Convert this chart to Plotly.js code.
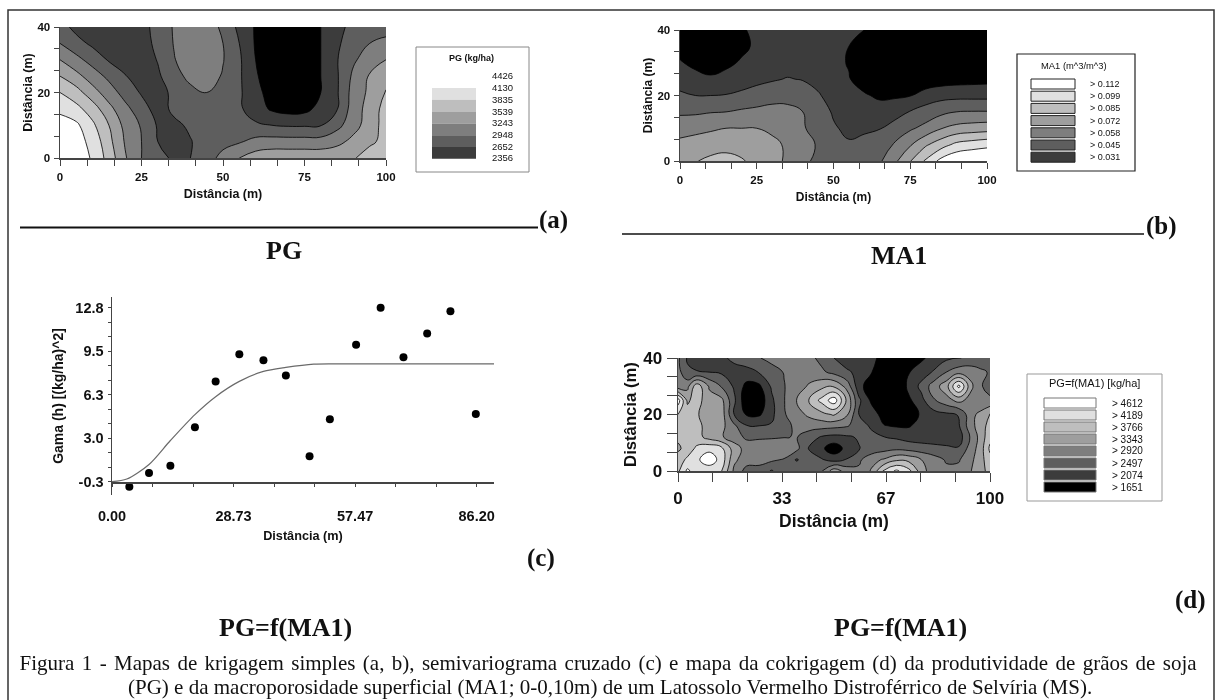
<!DOCTYPE html>
<html lang="pt">
<head>
<meta charset="utf-8">
<title>Figura 1</title>
<script src="https://cdn.plot.ly/plotly-3.0.1.min.js"></script>
<style>html,body{margin:0;padding:0;background:#fff}#chart{width:1219px;height:700px;filter:blur(0.45px)}</style>
</head>
<body>
<div id="chart"></div>
<script>
// ---------- data ----------
// Map cells are given as position between the legend class limits
// (0 = lowest limit, 1 = next limit, ...), which is what the picture shows.
const grayBands = ['#000000','#3c3c3c','#5e5e5e','#7e7e7e','#9e9e9e','#bebebe','#e0e0e0','#ffffff'];

const mapX = [0,5,10,15,20,25,30,35,40,45,50,55,60,65,70,75,80,85,90,95,100];
const mapY = [0,5,10,15,20,25,30,35,40];

const pgRows = [
 [7.2,6.5,5.9,4.6,3.1,2.0,1.4,.8,1,1.6,2.3,3,3.5,3.7,3.7,3.7,3.7,3.8,3.9,4.5,5],
 [7,6.4,5.7,4.3,2.9,2,1,.6,.95,1.4,1.7,1.9,2.3,2.4,2.4,2.4,2.4,2.7,3.3,3.8,4.3],
 [6.6,6.2,5.2,4,2.7,1.9,.9,.8,1.15,1.35,1.45,1.4,1.15,1,.9,.9,.95,1.7,2.6,3.5,4.4],
 [5.7,5.3,4.5,3.3,2.3,1.4,.6,1.2,1.5,1.7,1.6,1.15,.5,-.15,-.4,-.3,.35,.95,2.5,3.4,4.4],
 [5,4.4,3.4,2.5,1.6,.9,.5,1.3,1.7,2,1.7,1.15,.3,-.4,-.7,-.6,0,.9,2.4,3.2,4.1],
 [4,3.3,2.5,1.75,1.05,.6,.85,1.6,2.3,2.5,1.9,1.15,.1,-.5,-.8,-.7,0,.9,2.2,3.1,3.5],
 [3,2.3,1.6,.9,.5,.5,1.05,1.95,2.5,2.6,2.05,1.15,0,-.6,-.9,-.8,0,.95,1.85,2.5,3],
 [2,1.35,.8,.4,.3,.5,1.3,2.05,2.6,2.6,2,1,-.1,-.7,-1,-.8,0,.85,1.5,2,2.2],
 [1.4,.7,.4,.3,.3,.7,1.3,2.1,2.5,2.5,1.8,.75,-.1,-.8,-1,-.8,0,.7,1.3,1.6,1.7]
];
const ma1Rows = [
 [3.7,3.95,4.2,4.3,4.1,3.7,3.3,2.85,2.2,1.8,1.6,1.6,1.7,1.85,2.8,3.95,5.15,6.3,6.9,7.1,7.2],
 [3.3,3.45,3.6,3.7,3.6,3.45,3.25,2.85,2.4,1.9,1.45,1.1,1.35,1.55,2.1,2.9,3.85,4.55,5.25,5.5,5.7],
 [2.55,2.7,2.85,3,3,3,2.8,2.45,2.1,1.6,1.1,.8,.8,.95,1.35,1.85,2.3,2.95,3.3,3.45,3.55],
 [1.85,1.85,1.95,2,2.15,2.25,2.35,2.25,2,1.45,.9,.5,.35,.4,.65,1.05,1.4,1.75,2,2.05,2.05],
 [1.15,1,1,1.05,1.2,1.4,1.6,1.7,1.5,1.1,.6,.2,.1,-.15,-.15,-.05,.45,.65,.7,.7,.7],
 [.6,.4,.2,.3,.55,.75,.9,1.05,.95,.7,.4,.05,-.4,-.7,-.8,-.8,-.7,-.5,-.4,-.35,-.3],
 [.1,-.3,-.6,-.2,.1,.4,.55,.6,.55,.4,.2,-.05,-.5,-.9,-1,-1.1,-1.1,-1,-1,-1,-1],
 [-.4,-.8,-1,-.6,-.2,.15,.35,.4,.35,.25,.15,0,-.5,-1,-1.2,-1.3,-1.3,-1.3,-1.3,-1.3,-1.3],
 [-.8,-1,-1.1,-.7,-.1,.2,.35,.4,.4,.35,.25,.15,0,-.6,-1,-1.2,-1.3,-1.3,-1.3,-1.3,-1.3]
];
const cokrigX = [0,3,6,10,14,18,22,26,30,34,38,42,46,50,54,58,62,66,70,74,78,82,86,90,94,97,100];
const cokrigY = [0,4,8,12,16,20,25,30,35,40];
const cokrigRows = [
 [4.8,6.2,5.5,5.4,5,2.8,1.6,1.6,.9,1.6,1.7,1.8,1.9,3.6,2.6,2.2,3.1,5.2,6.2,5.3,3.5,2.3,2.2,2.3,3,3.7,4.3],
 [4.5,5.2,5.8,6.6,5.6,3.2,2.5,2.4,2.2,1.9,.9,1.6,1.1,.6,1.05,1.8,2.7,3.1,3.8,3.7,3,2.4,1.9,1.9,2.8,3.6,4.7],
 [3.8,4.4,5.2,5.7,5.2,3.5,2.6,2.6,2.6,2.9,2.3,.9,.2,-.6,.3,.95,1.3,1.6,1.75,1.6,1.45,1.35,1.2,1.1,2.5,3.5,5.2],
 [4.2,4,4.4,3.6,3.1,2.5,1.8,1.85,1.9,1.95,2.05,1.5,.9,.7,.85,1.1,1.35,1.02,.85,.6,.5,.4,.4,.5,2.2,3.4,4.7],
 [4.6,4.4,4.3,3.6,3.3,2.2,1.05,1,1.1,1.7,2.2,2.4,2.4,2.3,2.1,1.6,.8,.05,-.1,-.1,.4,.7,.85,.9,2.7,3.5,4.4],
 [5,4.5,4.1,3.5,3.5,1,-.1,-.15,.75,1.9,2.6,3.2,3.7,4.1,3.2,1,.5,-.4,-.9,-.8,.2,.6,.8,1.05,2.7,3.3,4.1],
 [6.5,3.8,4.5,3.3,3.25,1.2,-.8,-.7,.8,1.95,3,4.1,5.3,6.6,3.9,1.2,-.2,-1,-1.2,-.2,.7,1.9,2.6,3.3,2.6,2.1,2.2],
 [2.4,2.7,4.6,2.9,1.9,.85,-.3,-.2,1.15,1.95,2.6,3.1,3.7,3.85,2.7,.4,-.7,-1.1,-1.2,.3,1.25,2.5,3.6,6.3,3.2,2.1,1.6],
 [2.4,1.15,1.05,1,.85,.6,.65,1.05,1.6,2.05,2.45,2.6,2.2,1.7,1.1,.85,.05,-.7,-1,-.05,.55,1.1,2,2.6,2.6,2.2,1.9],
 [2.2,.9,.6,.5,.8,1.25,1.6,1.95,2.3,2.5,2.6,2.3,1.7,1,.7,.6,.3,-.4,-.8,-.8,-.2,.4,.8,.95,1.2,1.35,1.5]
];

const semivarLag = [4.1,8.75,13.8,19.6,24.5,30.1,35.8,41.1,46.7,51.5,57.7,63.5,68.9,74.5,80,86];
const semivarGamma = [-.67,.35,.9,3.8,7.25,9.3,8.84,7.7,1.62,4.4,10,12.8,9.06,10.86,12.53,4.8];
const modelLag = [0,3.5,8.75,13.8,19.6,24.5,30.1,35.8,41.1,47.7,54,90.3];
const modelGamma = [-.3,-.1,1,2.8,4.75,6.1,7.25,8,8.3,8.55,8.57,8.57];

const semivarTicks = [-.3,2.975,6.25,9.525,12.8];
const semivarTickText = ['-0.3','3.0','6.3','9.5','12.8'];
const semivarXTicks = [0,28.73,57.47,86.2];
const semivarXText = ['0.00','28.73','57.47','86.20'];

const pgLegendLabels = ['4426','4130','3835','3539','3243','2948','2652','2356'];
const ma1LegendLabels = ['> 0.112','> 0.099','> 0.085','> 0.072','> 0.058','> 0.045','> 0.031'];
const cokrigLegendLabels = ['> 4612','> 4189','> 3766','> 3343','> 2920','> 2497','> 2074','> 1651'];

// ---------- page geometry (pixels) ----------
const W = 1219, H = 700;
const fx = p => p / W, fy = p => 1 - p / H;
const SERIF = '"Liberation Serif", serif', SANS = '"Liberation Sans", Arial, sans-serif';
const AX = '#444444';

const colorscale = grayBands.map((c, i) => [i / 7, c]);
function contourTrace(x, y, z, n) {
  return {type:'contour', x, y, z, xaxis:'x'+n, yaxis:'y'+n, showscale:false, hoverinfo:'skip',
    colorscale, autocontour:false, contours:{coloring:'fill', start:0, end:6, size:1},
    line:{color:'#000000', width:0.8, smoothing:1.3}};
}
const data = [
  contourTrace(mapX, mapY, pgRows, ''),
  contourTrace(mapX, mapY, ma1Rows, '2'),
  {type:'scatter', mode:'lines', x:modelLag, y:modelGamma, xaxis:'x3', yaxis:'y3', hoverinfo:'skip',
   line:{color:'#6a6a6a', width:1.2, shape:'spline', smoothing:0.8}},
  {type:'scatter', mode:'markers', x:semivarLag, y:semivarGamma, xaxis:'x3', yaxis:'y3', hoverinfo:'skip',
   marker:{color:'#000000', size:8}},
  contourTrace(cokrigX, cokrigY, cokrigRows, '4')
];

function thirds(maxV, step) { const a = []; for (let i = 0; i * step <= maxV + 1e-6; i++) a.push(i * step); return a; }

function axisBase(tv, tt, minorv, o) {
  return {range:o.range, tickmode:'array', tickvals:tv, ticktext:tt,
    ticks:'outside', ticklen:o.tl, tickcolor:AX, tickwidth:1, showgrid:false, zeroline:false,
    showline:true, linecolor:AX, linewidth:1.5, ticklabelstandoff:o.lab||0,
    tickfont:{family:SANS, size:o.fs, color:'#111', weight:'bold'},
    minor:{tickmode:'array', tickvals:minorv, ticks:'outside', ticklen:o.tl, tickcolor:AX, tickwidth:1, showgrid:false},
    title:{text:o.title, font:{family:SANS, size:o.ts, color:'#111', weight:'bold'}, standoff:o.so}};
}
const mapTickX = [0,25,50,75,100], mapTickY = [0,20,40];
const xTitle = 'Distância (m)';

const layout = {
  width:W, height:H, margin:{l:0,r:0,t:0,b:0}, paper_bgcolor:'#fff', plot_bgcolor:'#fff', showlegend:false,
  xaxis: Object.assign(axisBase(mapTickX,mapTickX.map(String),thirds(100,25/3),{range:[0,100],tl:6,lab:2,fs:11.5,ts:12.5,so:7,title:xTitle}),{domain:[fx(60),fx(386)],anchor:'y'}),
  yaxis: Object.assign(axisBase(mapTickY,mapTickY.map(String),thirds(40,20/3),{range:[0,40],tl:5,lab:1,fs:11.5,ts:12.5,so:2,title:xTitle}),{domain:[fy(158),fy(27)],anchor:'x'}),
  xaxis2: Object.assign(axisBase(mapTickX,mapTickX.map(String),thirds(100,25/3),{range:[0,100],tl:6,lab:2,fs:11.5,ts:12,so:7,title:xTitle}),{domain:[fx(680),fx(987)],anchor:'y2'}),
  yaxis2: Object.assign(axisBase(mapTickY,mapTickY.map(String),thirds(40,20/3),{range:[0,40],tl:5,lab:1,fs:11.5,ts:12,so:2,title:xTitle}),{domain:[fy(161),fy(30)],anchor:'x2'}),
  xaxis3: Object.assign(axisBase(semivarXTicks,semivarXText,thirds(90,86.2/9),{range:[0,90.3],tl:3,lab:17,fs:14.5,ts:12.7,so:8,title:xTitle}),{domain:[fx(112),fx(494)],anchor:'free',position:fy(482)}),
  yaxis3: Object.assign(axisBase(semivarTicks,semivarTickText,[-.3,.79,1.88,2.975,4.07,5.16,6.25,7.34,8.43,9.525,10.6,11.7,12.8],{range:[-1.3,13.6],tl:3,lab:1,fs:14.5,ts:14,so:8,title:'Gama (h) [(kg/ha)^2]'}),{domain:[fy(495),fy(297)],anchor:'x3'}),
  xaxis4: Object.assign(axisBase([0,100/3,200/3,100],['0','33','67','100'],thirds(100,100/9),{range:[0,100],tl:9,lab:2,fs:17,ts:17.5,so:8,title:xTitle}),{domain:[fx(678),fx(990)],anchor:'y4'}),
  yaxis4: Object.assign(axisBase(mapTickY,mapTickY.map(String),thirds(40,20/3),{range:[0,40],tl:10,lab:1,fs:17,ts:16.7,so:2,title:xTitle}),{domain:[fy(471),fy(358)],anchor:'x4'}),
  shapes:[], annotations:[]
};

// ---------- page furniture ----------
function rectPx(x0,y0,x1,y1,line,fill,w){
  layout.shapes.push({type:'rect',xref:'paper',yref:'paper',x0:fx(x0),x1:fx(x1),y0:fy(y1),y1:fy(y0),
    line:{color:line,width:w},fillcolor:fill||'rgba(0,0,0,0)'});
}
function linePx(x0,x1,y,w){
  layout.shapes.push({type:'line',xref:'paper',yref:'paper',x0:fx(x0),x1:fx(x1),y0:fy(y),y1:fy(y),line:{color:'#111',width:w}});
}
function textPx(text,x,y,family,size,opts){
  layout.annotations.push(Object.assign({xref:'paper',yref:'paper',x:fx(x),y:fy(y),text,showarrow:false,
    xanchor:'center',yanchor:'middle',font:{family,size,color:'#111'}},opts||{}));
}

rectPx(8,10,1214,702,'#333',null,1.5);
linePx(20,538,227.5,2);
linePx(622,1144,234,1.5);
[['<b>(a)</b>',553,220],['<b>(b)</b>',1161,226],['<b>(c)</b>',541,558],['<b>(d)</b>',1190,600]]
  .forEach(t=>textPx(t[0],t[1],t[2],SERIF,25));
[['<b>PG</b>',284,250],['<b>MA1</b>',899,255],['<b>PG=f(MA1)</b>',285,627],['<b>PG=f(MA1)</b>',900,627]]
  .forEach(t=>textPx(t[0],t[1],t[2],SERIF,26));
const capA = 'Figura 1 - Mapas de krigagem simples (a, b), semivariograma cruzado (c) e mapa da cokrigagem (d) da produtividade de grãos de soja';
const capB = '(PG) e da macroporosidade superficial (MA1; 0-0,10m) de um Latossolo Vermelho Distroférrico de Selvíria (MS).';
textPx(capA,608,663,SERIF,21);
textPx(capB,610,686.5,SERIF,21);

// legend (a)
rectPx(416,47,529,172,'#888',null,1);
textPx('<b>PG (kg/ha)</b>',471,58,SANS,9);
pgLegendLabels.forEach((t,i)=>textPx(t,502,76+i*11.7,SANS,9.5));
grayBands.slice(1,7).reverse().forEach((c,i)=>rectPx(432,88+i*11.8,476,99.8+i*11.8,c,c,0));
// legend (b)
rectPx(1017,54,1135,171,'#222',null,1.2);
textPx('MA1 (m^3/m^3)',1074,65,SANS,9.4);
ma1LegendLabels.forEach((t,i)=>{
  const c = grayBands[7-i], y = 84+i*12.2;
  rectPx(1031,y-5,1075,y+5,'#222',c,1);
  textPx(t,1088,y,SANS,9,{xanchor:'left'});
});
// legend (d)
rectPx(1027,374,1162,501,'#999',null,1);
textPx('PG=f(MA1) [kg/ha]',1094,383,SANS,11);
cokrigLegendLabels.forEach((t,i)=>{
  const c = grayBands[7-i], y = 403+i*12;
  rectPx(1044,y-5,1096,y+5,'#777',c,1);
  textPx(t,1110,y,SANS,10,{xanchor:'left'});
});

Plotly.newPlot('chart', data, layout, {staticPlot:true, displayModeBar:false}).then(gd => {
  // the first caption line is justified in the original
  gd.querySelectorAll('.annotation-text').forEach(t => {
    if (t.textContent.startsWith('Figura')) {
      const gaps = t.textContent.split(' ').length - 1;
      t.setAttribute('word-spacing', (1177 - t.getComputedTextLength()) / gaps);
    }
  });
});
</script>
</body>
</html>
